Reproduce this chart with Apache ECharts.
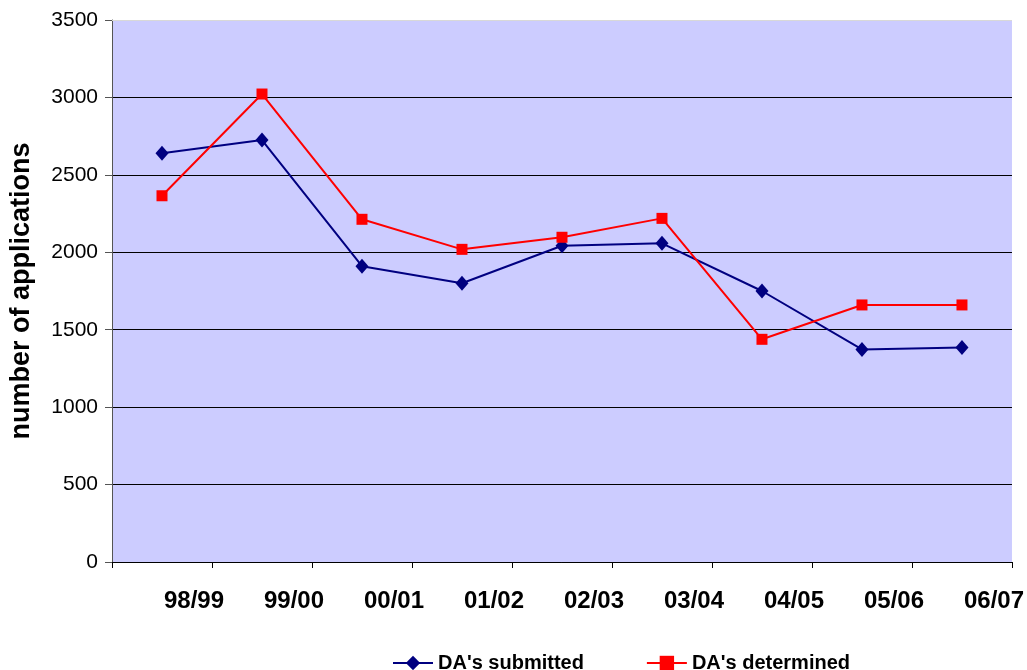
<!DOCTYPE html>
<html>
<head>
<meta charset="utf-8">
<script src="https://cdn.jsdelivr.net/npm/echarts@6/dist/echarts.min.js"></script>
<style>
  html, body { margin: 0; padding: 0; background: #ffffff; }
  #chart { width: 1027px; height: 670px; }
</style>
</head>
<body>
<div id="chart"></div>
<script>
// Development applications per financial year
const years = ['98/99', '99/00', '00/01', '01/02', '02/03', '03/04', '04/05', '05/06', '06/07'];
const submitted = [2639, 2725, 1910, 1800, 2042, 2058, 1750, 1373, 1385];
const determined = [2365, 3022, 2213, 2019, 2097, 2219, 1438, 1660, 1660];
const yTicks = { min: 0, max: 3500, step: 500 };

const FONT = '"Liberation Sans", Arial, sans-serif';

const chart = echarts.init(document.getElementById('chart'), null, { renderer: 'canvas' });

chart.setOption({
  backgroundColor: '#ffffff',
  animation: false,
  grid: {
    left: 112, right: 15, top: 20, bottom: 108,
    show: true, backgroundColor: '#CCCCFF', borderWidth: 0,
    containLabel: false
  },
  legend: {
    left: 387, top: 648,
    itemWidth: 40, itemHeight: 18, itemGap: 62,
    textStyle: { fontFamily: FONT, fontSize: 20, fontWeight: 'bold', color: '#000' },
    data: ["DA's submitted", "DA's determined"]
  },
  xAxis: {
    type: 'category',
    data: years,
    boundaryGap: true,
    axisLine: { lineStyle: { color: '#000', width: 1 } },
    axisTick: { show: true, length: 6, lineStyle: { color: '#000' } },
    axisLabel: {
      interval: 0,
      margin: 27,
      padding: [0, 0, 0, 64],
      fontFamily: FONT, fontSize: 24, fontWeight: 'bold', color: '#000'
    },
    splitLine: { show: false }
  },
  yAxis: {
    type: 'value',
    min: yTicks.min, max: yTicks.max, interval: yTicks.step,
    name: 'number of applications',
    nameLocation: 'middle',
    nameRotate: 90,
    nameGap: 77,
    nameTextStyle: { fontFamily: FONT, fontSize: 27, fontWeight: 'bold', color: '#000' },
    axisLine: { show: true, lineStyle: { color: '#555', width: 1 } },
    axisTick: { show: true, length: 7, lineStyle: { color: '#555' } },
    axisLabel: {
      margin: 14, fontFamily: FONT, fontSize: 21, color: '#000',
      formatter: function (v) { return String(v); }
    },
    splitLine: { show: true, showMinLine: false, showMaxLine: false, lineStyle: { color: '#000', width: 1 } }
  },
  series: [
    {
      name: "DA's submitted",
      type: 'line',
      data: submitted,
      symbol: 'diamond',
      symbolSize: [13, 15],
      lineStyle: { color: '#000080', width: 2 },
      itemStyle: { color: '#000080' },
      markLine: {
        silent: true, symbol: 'none', label: { show: false },
        lineStyle: { color: '#d8d8d8', width: 1, type: 'solid' },
        data: [{ yAxis: yTicks.max }]
      },
      z: 3
    },
    {
      name: "DA's determined",
      type: 'line',
      data: determined,
      symbol: 'rect',
      symbolSize: 11,
      lineStyle: { color: '#FF0000', width: 2 },
      itemStyle: { color: '#FF0000' },
      z: 4
    }
  ]
});
</script>
</body>
</html>
